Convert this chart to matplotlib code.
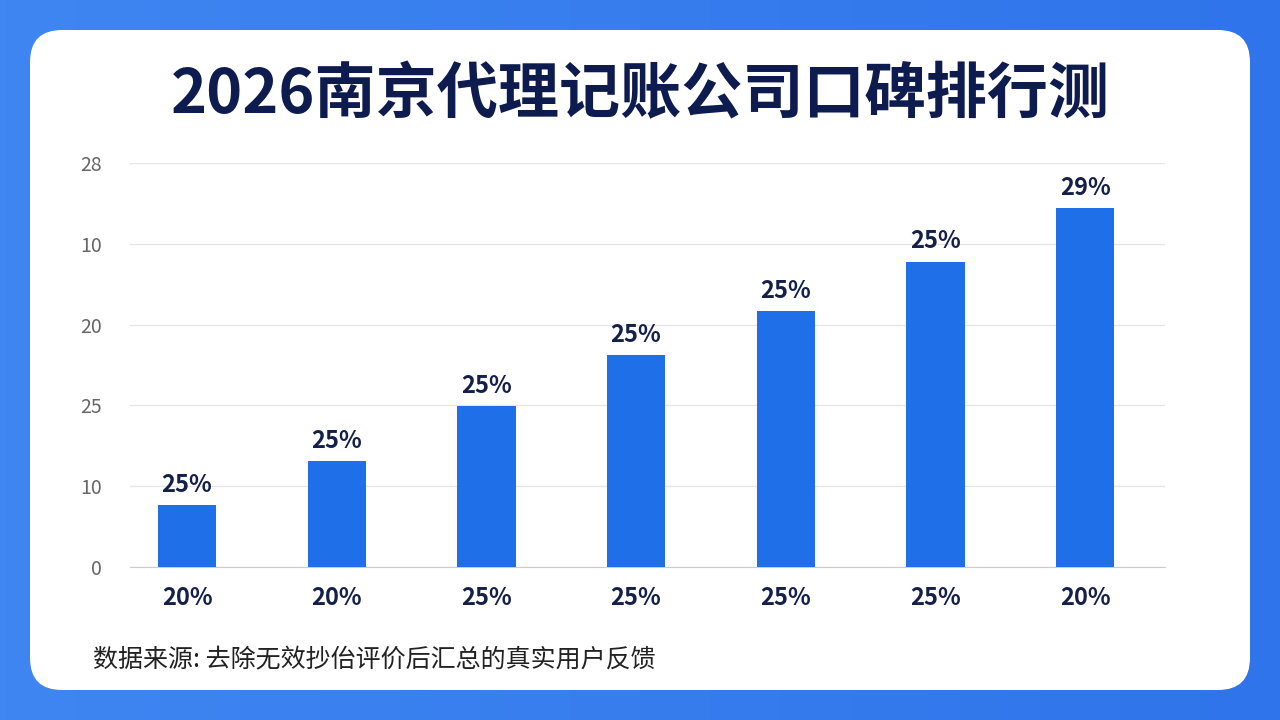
import matplotlib.pyplot as plt
import numpy as np
from matplotlib.patches import FancyBboxPatch

plt.rcParams['font.family'] = ['Noto Sans CJK SC', 'DejaVu Sans']

# data
heights = [0.77, 1.31, 1.99, 2.62, 3.17, 3.78, 4.44]
bar_labels = ['25%', '25%', '25%', '25%', '25%', '25%', '29%']
x_labels = ['20%', '20%', '25%', '25%', '25%', '25%', '20%']
y_ticklabels = ['0', '10', '25', '20', '10', '28']
title = '2026南京代理记账公司口碑排行测'
source = '数据来源: 去除无效抄佁评价后汇总的真实用户反馈'

fig = plt.figure(figsize=(12.8, 7.2), dpi=100)

# blue gradient background
bg = fig.add_axes([0, 0, 1, 1])
grad = np.linspace(0, 1, 256).reshape(1, -1)
bg.imshow(grad, aspect='auto', cmap=plt.matplotlib.colors.LinearSegmentedColormap.from_list(
    'b', ['#3f86f2', '#2f74ea']), extent=[0, 1, 0, 1])
bg.set_xlim(0, 1)
bg.set_ylim(0, 1)
bg.axis('off')
card = FancyBboxPatch((30/1280, 30/720), 1220/1280, 660/720,
                      boxstyle='round,pad=0,rounding_size=0.025',
                      transform=bg.transAxes, fc='white', ec='none',
                      mutation_aspect=1280/720)
bg.add_patch(card)

fig.text(0.5, 1 - 95/720, title, ha='center', va='center', fontsize=44,
         fontweight='bold', color='#0d1b4f')

ax = fig.add_axes([130/1280, 1 - 567/720, 1035/1280, 404/720])
x = np.arange(len(heights))
ax.bar(x, heights, width=0.39, color='#1f6fe8', zorder=3)
for xi, h, lab in zip(x, heights, bar_labels):
    ax.text(xi, h + 0.1, lab, ha='center', va='bottom', fontsize=17,
            fontweight='bold', color='#14204a')
ax.set_xlim(-0.381, 6.534)
ax.set_ylim(0, 5)
ax.set_yticks(range(6))
ax.set_yticklabels(y_ticklabels, fontsize=14, color='#666666')
ax.set_xticks(x)
ax.set_xticklabels(x_labels, fontsize=17, fontweight='bold', color='#14204a')
ax.tick_params(length=0, pad=14)
ax.tick_params(axis='y', pad=20)
ax.grid(axis='y', color='#e6e6e6', lw=1, zorder=0)
for s in ['top', 'right', 'left']:
    ax.spines[s].set_visible(False)
ax.spines['bottom'].set_color('#cccccc')
ax.set_facecolor('none')

fig.text(93/1280, 1 - 660/720, source, ha='left', va='center', fontsize=18,
         color='#222222')

fig.savefig('out.png', dpi=100)
